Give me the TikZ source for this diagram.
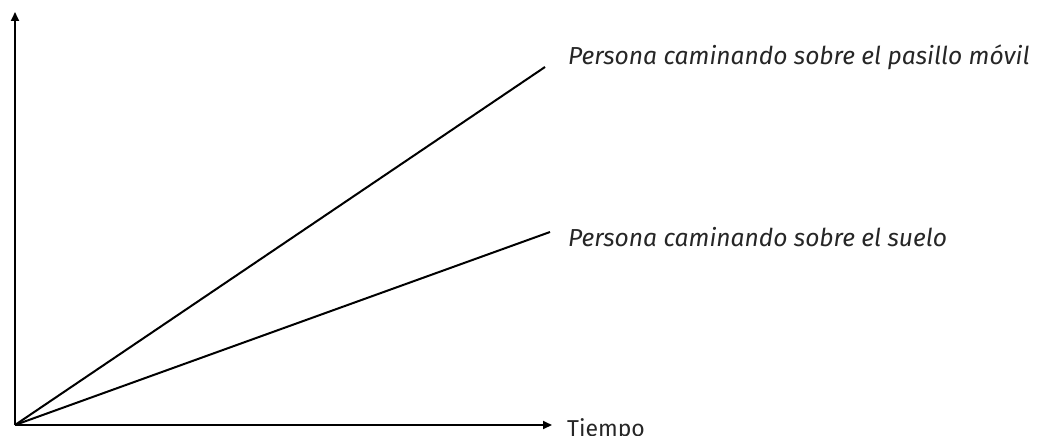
\documentclass[tikz,border=0pt]{standalone}
\usepackage{fontspec}
\setmainfont{Fira Sans}
\usetikzlibrary{arrows.meta}
\begin{document}
\begin{tikzpicture}[x=1pt,y=-1pt,
  axis/.style={line width=2pt,-{Triangle[length=9pt,width=8pt]}},
  curve/.style={line width=2pt},
  lbl/.style={anchor=west,inner sep=0pt,font=\fontsize{24.6}{28}\selectfont\itshape,text=black!85},
  axlbl/.style={anchor=base west,inner sep=0pt,font=\fontsize{23}{26}\selectfont,text=black!85}]
\useasboundingbox (0,0) rectangle (1038,436);
\coordinate (O) at (15,425);
\coordinate (Y) at (15,12);
\coordinate (X) at (552,425);
\coordinate (A) at (545,67);
\coordinate (B) at (550,232);
\draw[axis] (O) -- (Y);
\draw[axis] (O) -- (X);
\draw[curve] (O) -- (A);
\draw[curve] (O) -- (B);
\node[lbl] (la) at (568,57) {Persona caminando sobre el pasillo móvil};
\node[lbl] (lb) at (568,237) {Persona caminando sobre el suelo};
\node[axlbl] (lt) at (567,436) {Tiempo};
\end{tikzpicture}
\end{document}
